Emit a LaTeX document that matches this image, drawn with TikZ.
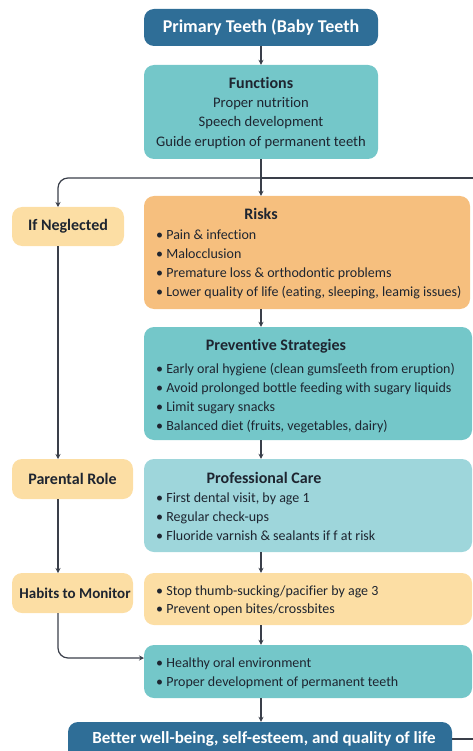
\documentclass[tikz,border=0pt]{standalone}
\usepackage{fontspec}
\setmainfont[Ligatures={NoCommon}]{Carlito}
\usetikzlibrary{arrows.meta}
\definecolor{dblue}{HTML}{2F6E97}
\definecolor{teal1}{HTML}{74C7C9}
\definecolor{teal2}{HTML}{9ED6DB}
\definecolor{orng}{HTML}{F6BF7E}
\definecolor{lorng}{HTML}{FCDEA4}
\definecolor{txt}{HTML}{1E2530}
\definecolor{lin}{HTML}{3A3F4A}
\begin{document}
\begin{tikzpicture}[x=1pt,y=-1pt,
  box/.style={draw=none,rounded corners=10pt,inner sep=0pt},
  tt/.style={inner sep=0pt,text=txt,font=\fontsize{14.6}{19.5}\selectfont},
  bt/.style={inner sep=0pt,text=txt,font=\fontsize{16}{19}\selectfont\bfseries},
  bl/.style={inner sep=0pt,text=txt,anchor=west,align=left,font=\fontsize{14}{19}\selectfont},
  con/.style={draw=lin,line width=1.2pt,-{Stealth[length=5pt,width=5pt]}},
  con0/.style={draw=lin,line width=1.2pt}]
\useasboundingbox (0,0) rectangle (473,751);
% boxes
\node[box,fill=dblue,minimum width=234pt,minimum height=37pt] (top) at (261,27.5) {};
\node[inner sep=0pt,text=white,font=\fontsize{18}{20}\selectfont\bfseries] (topt) at (261,27.5) {Primary Teeth (Baby Teeth};
\node[box,fill=teal1,minimum width=234pt,minimum height=94pt] (func) at (261,112) {};
\node[bt,anchor=center] (funct) at (261,83) {Functions};
\node[tt,align=center,anchor=north] (funcb) at (261,97) {Proper nutrition\\Speech development\\Guide eruption of permanent teeth};
\node[box,fill=lorng,minimum width=112pt,minimum height=39pt] (negl) at (68,226.5) {};
\node[bt] (neglt) at (68,226.5) {If Neglected};
\node[box,fill=orng,minimum width=326pt,minimum height=113pt] (risks) at (307,252.5) {};
\node[bt] (riskt) at (261,214) {Risks};
\node[bl,anchor=north west] (riskb) at (156,230) {• Pain \& infection\\• Malocclusion\\• Premature loss \& orthodontic problems\\• Lower quality of life (eating, sleeping, leamig issues)};
\node[box,fill=teal1,minimum width=328pt,minimum height=113pt] (prev) at (308,383.5) {};
\node[bt] (prevt) at (276,346) {Preventive Strategies};
\node[bl,anchor=north west] (prevb) at (156,363) {• Early oral hygiene (clean gumsľeeth from eruption)\\• Avoid prolonged bottle feeding with sugary liquids\\• Limit sugary snacks\\• Balanced diet (fruits, vegetables, dairy)};
\node[box,fill=lorng,minimum width=121pt,minimum height=40pt] (parent) at (72.5,479) {};
\node[bt] (parentt) at (72.5,479) {Parental Role};
\node[box,fill=teal2,minimum width=328pt,minimum height=93pt] (prof) at (308,505.5) {};
\node[bt] (proft) at (264,478) {Professional Care};
\node[bl,anchor=north west] (profb) at (156,492.5) {• First dental visit, by age 1\\• Regular check-ups\\• Fluoride varnish \& sealants if f at risk};
\node[box,fill=lorng,minimum width=121pt,minimum height=40pt] (habL) at (72.5,593) {};
\node[bt,font=\fontsize{15}{18}\selectfont\bfseries] (habLt) at (75,593) {Habits to Monitor};
\node[box,fill=lorng,minimum width=328pt,minimum height=52pt] (hab) at (308,599) {};
\node[bl,anchor=north west,font=\fontsize{14}{18}\selectfont] (habb) at (156,586) {• Stop thumb-sucking/pacifier by age 3\\• Prevent open bites/crossbites};
\node[box,fill=teal1,minimum width=328pt,minimum height=53pt] (out) at (308,671.5) {};
\node[bl,anchor=north west] (outb) at (156,658) {• Healthy oral environment\\• Proper development of permanent teeth};
\node[box,fill=dblue,minimum width=384pt,minimum height=40pt] (bot) at (260,742) {};
\node[inner sep=0pt,text=white,font=\fontsize{17}{19}\selectfont\bfseries] (bott) at (264,739) {Better well-being, self-esteem, and quality of life};
% connectors
\coordinate (j) at (261,178);
\coordinate (jr) at (473,178);
\coordinate (nl) at (58,207);
\coordinate (nlb) at (58,246);
\coordinate (pt) at (58,459);
\coordinate (pb) at (58,499);
\coordinate (ht) at (58,573);
\coordinate (hb) at (58,613);
\coordinate (oin) at (144,658);
\coordinate (bre) at (473,739);
\draw[con] (top) -- (func);
\draw[con0] (func.south) -- (j);
\draw[con0] (j) -- (jr);
\draw[con,rounded corners=10pt] (j) -| (nl);
\draw[con] (j) -- (risks.north -| j);
\draw[con] (nlb) -- (pt);
\draw[con] (pb) -- (ht);
\draw[con,rounded corners=10pt] (hb) |- (oin);
\draw[con] (risks.south -| j) -- (prev.north -| j);
\draw[con] (prev.south -| j) -- (prof.north -| j);
\draw[con] (prof.south -| j) -- (hab.north -| j);
\draw[con] (hab.south -| j) -- (out.north -| j);
\draw[con] (out.south -| j) -- (bot.north -| j);
\draw[con0] (bot.east |- bre) -- (bre);
\end{tikzpicture}
\end{document}
